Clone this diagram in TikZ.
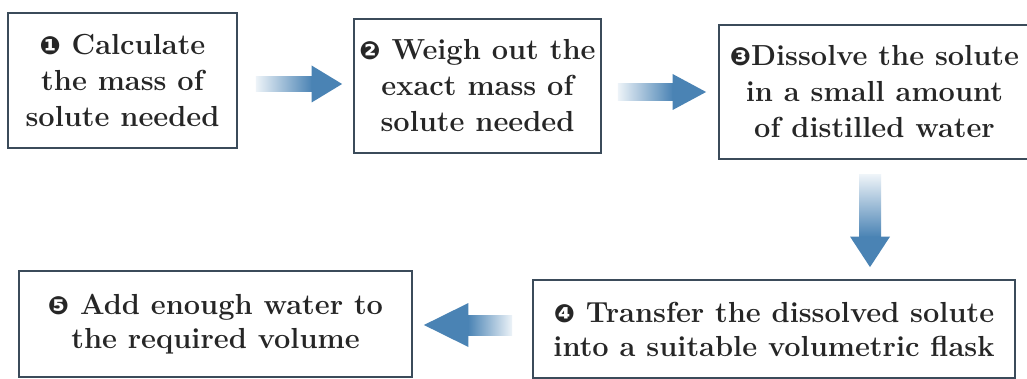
\documentclass[tikz,border=0pt]{standalone}
\usepackage{fontspec}
\newfontfamily\dingfont{DejaVu Sans}
\usetikzlibrary{calc}
\definecolor{arrblue}{HTML}{4A83B4}
\definecolor{arrlight}{HTML}{EDF3F8}
\definecolor{boxline}{HTML}{3B4B5A}
\definecolor{txt}{HTML}{262626}
\newcommand\cnum[1]{{\dingfont\fontsize{25}{25}\selectfont #1}}
% right-pointing fat arrow: start, tip, shaft half, head half, head length
\newcommand\fatR[5]{%
  \shade[left color=arrlight,right color=arrblue] ($(#1)+(0,-#3)$) rectangle ($(#2)+(-#5,#3)$);
  \fill[arrblue] ($(#2)+(-#5-0.5,-#4)$) -- (#2) -- ($(#2)+(-#5-0.5,#4)$) -- cycle;}
\newcommand\fatL[5]{%
  \shade[left color=arrblue,right color=arrlight] ($(#2)+(#5,-#3)$) rectangle ($(#1)+(0,#3)$);
  \fill[arrblue] ($(#2)+(#5+0.5,-#4)$) -- (#2) -- ($(#2)+(#5+0.5,#4)$) -- cycle;}
\newcommand\fatD[5]{%
  \shade[top color=arrlight,bottom color=arrblue] ($(#1)+(-#3,0)$) rectangle ($(#2)+(#3,-#5)$);
  \fill[arrblue] ($(#2)+(-#4,-#5-0.5)$) -- (#2) -- ($(#2)+(#4,-#5-0.5)$) -- cycle;}
\begin{document}
\begin{tikzpicture}[x=1pt,y=-1pt,
  stepbox/.style={draw=boxline, line width=1.8pt, fill=white, inner sep=0pt,
    align=center, text=txt, font=\fontsize{29}{36}\selectfont\bfseries},
  lowbox/.style={stepbox, font=\fontsize{29}{34}\selectfont\bfseries}]
\useasboundingbox (0,0) rectangle (1027,379);
\clip (0,0) rectangle (1027,379);
\fill[white] (0,0) rectangle (1027,379);

\node[stepbox, minimum width=229pt, minimum height=135pt] (b1) at (122.5,80.5)
  {\cnum{❶} Calculate\\the mass of\\solute needed};
\node[stepbox, minimum width=247pt, minimum height=134pt] (b2) at (477.5,86)
  {\cnum{❷} Weigh out the\\exact mass of\\solute needed};
\node[stepbox, minimum width=311pt, minimum height=134pt] (b3) at (874.5,92)
  {\cnum{❸}Dissolve the solute\\in a small amount\\of distilled water};
\node[lowbox, minimum width=482pt, minimum height=98pt] (b4) at (774,329)
  {\cnum{❹} Transfer the dissolved solute\\into a suitable volumetric flask};
\node[lowbox, minimum width=393pt, minimum height=106pt] (b5) at (215.5,324)
  {\cnum{❺} Add enough water to\\the required volume};

% arrow 1
\coordinate (a1s) at ($(b1.east)+(18,3.5)$);
\coordinate (t1) at ($(b2.west)+(-11,0)$);
\coordinate (a1e) at (t1 |- a1s);
\fatR{a1s}{a1e}{7.5}{18.5}{30}
% arrow 2
\coordinate (a2s) at ($(b2.east)+(16,6)$);
\coordinate (t2) at ($(b3.west)+(-12,0)$);
\coordinate (a2e) at (t2 |- a2s);
\fatR{a2s}{a2e}{8.5}{18}{33}
% arrow 3
\coordinate (a3s) at ($(b3.south)+(-4.5,15)$);
\coordinate (t3) at ($(b4.north)+(0,-12)$);
\coordinate (a3e) at (a3s |- t3);
\fatD{a3s}{a3e}{11}{20}{30}
% arrow 4
\coordinate (a4s) at ($(b4.west)+(-20,-4)$);
\coordinate (t4) at ($(b5.east)+(11,0)$);
\coordinate (a4e) at (t4 |- a4s);
\fatL{a4s}{a4e}{10}{22}{44}
\end{tikzpicture}
\end{document}
